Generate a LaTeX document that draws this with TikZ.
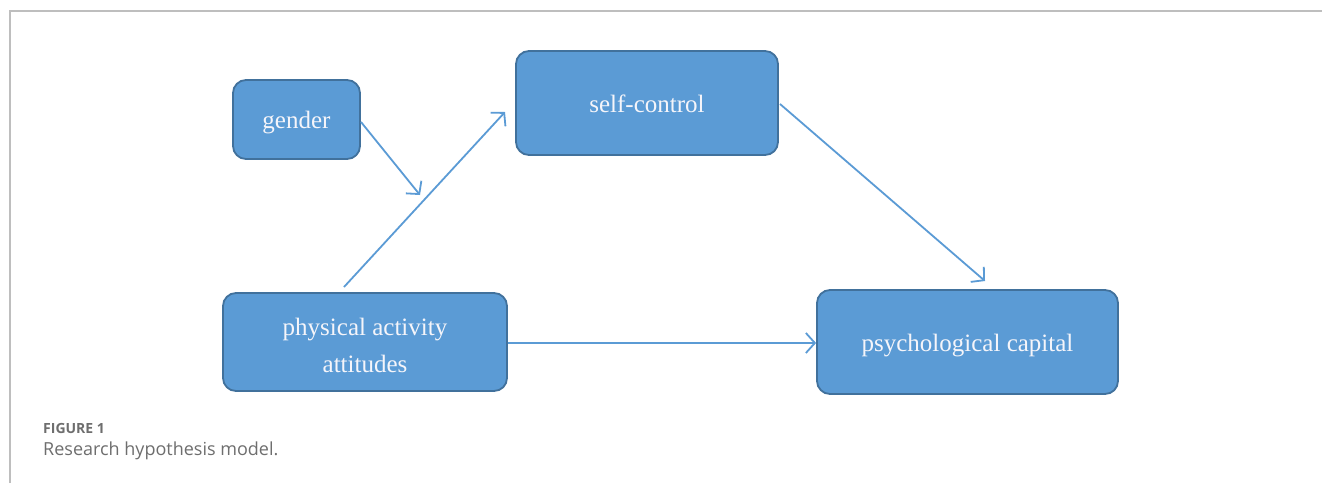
\documentclass[tikz,border=0pt]{standalone}
\usepackage{fontspec}
\setmainfont{Liberation Serif}
\newfontfamily\capfont{Open Sans}
\usetikzlibrary{arrows.meta}
\definecolor{boxfill}{RGB}{91,155,213}
\definecolor{boxedge}{RGB}{65,113,156}
\definecolor{textwhite}{RGB}{245,245,250}
\definecolor{framegrey}{RGB}{190,190,190}
\definecolor{capgrey}{RGB}{110,110,110}
\begin{document}
\begin{tikzpicture}[x=1pt,y=-1pt,
  boxnode/.style={draw=boxedge, line width=1.8pt, fill=boxfill, rounded corners=13pt,
    text=textwhite, font=\fontsize{25}{37}\selectfont, align=center, inner sep=0pt},
  oneline/.style={text height=23pt, text depth=5pt},
  conn/.style={draw=boxfill, line width=1.8pt, -{Straight Barb[length=9pt,width=20pt,line width=1.8pt]}}]
\useasboundingbox (0,0) rectangle (1322,483);
\fill[white] (0,0) rectangle (1322,483);
\draw[framegrey, line width=2pt] (10,483) -- (10,11) -- (1322,11);
\node[boxnode, oneline, minimum width=127pt, minimum height=79pt] (gender) at (296.5,119.5) {gender};
\node[boxnode, oneline, minimum width=262pt, minimum height=104pt] (self) at (647,103) {self-control};
\node[boxnode, minimum width=284pt, minimum height=98pt] (pa) at (365,342) {\rule{0pt}{25pt}physical activity\\attitudes};
\node[boxnode, oneline, minimum width=301pt, minimum height=104pt] (psy) at (967.5,342) {psychological capital};
\coordinate (g1) at (361,122);
\coordinate (g2) at (420,195);
\coordinate (p1) at (344,287);
\coordinate (p2) at (505,112);
\coordinate (s1) at (780,104);
\coordinate (s2) at (985,281);
\draw[conn] (g1) -- (g2);
\draw[conn] (p1) -- (p2);
\draw[conn] (s1) -- (s2);
\draw[conn] (pa.east |- 0,343) -- (psy.west |- 0,343);
\node[anchor=base west, inner sep=0pt, text=capgrey, font=\capfont\bfseries\fontsize{14}{16}\selectfont] (fig) at (43,433) {FIGURE 1};
\node[anchor=base west, inner sep=0pt, text=capgrey, font=\capfont\fontsize{18}{22}\selectfont] (cap) at (43,455) {Research hypothesis model.};
\end{tikzpicture}
\end{document}
